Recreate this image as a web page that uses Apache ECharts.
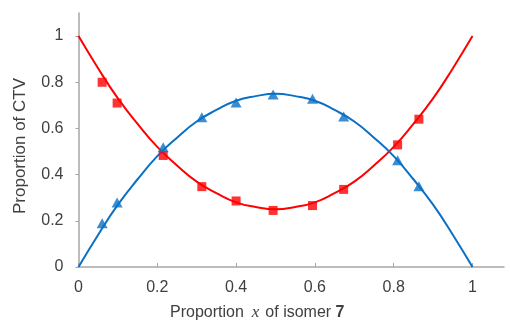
<!DOCTYPE html>
<html><head><meta charset="utf-8">
<script src="https://cdn.jsdelivr.net/npm/echarts@6/dist/echarts.min.js"></script>
<style>html,body{margin:0;padding:0;background:#fff}#c{width:510px;height:326px}</style>
</head><body><div id="c"></div>
<script>
// fitted curves
const curveX = [0,0.05,0.1,0.15,0.2,0.25,0.3,0.35,0.4,0.45,0.5,0.55,0.6,0.65,0.7,0.75,0.8,0.85,0.9,0.95,1];
const redCurve = [1,0.86,0.73,0.62,0.52,0.44,0.37,0.32,0.28,0.26,0.25,0.26,0.28,0.32,0.37,0.44,0.52,0.62,0.73,0.86,1];
const blueCurve = [0,0.14,0.27,0.38,0.48,0.56,0.63,0.68,0.72,0.74,0.75,0.74,0.72,0.68,0.63,0.56,0.48,0.38,0.27,0.14,0];
// measured points
const ptX = [0.06,0.098,0.215,0.313,0.40,0.494,0.594,0.673,0.81,0.864];
const redPts = [0.80,0.71,0.483,0.348,0.286,0.245,0.266,0.336,0.529,0.64];
const bluePts = [0.19,0.279,0.519,0.648,0.712,0.747,0.729,0.652,0.462,0.35];
const xTicks = [0,0.2,0.4,0.6,0.8,1];

const zip = (a,b)=>a.map((v,i)=>[v,b[i]]);
const RED='#ff0000', BLUE='#0a70c6', AX='#a6a6a6', TXT='#404040';
const FF='Liberation Sans';
const chart = echarts.init(document.getElementById('c'));
chart.setOption({
  animation:false,
  grid:{left:78.5,right:6,top:13,bottom:56.5},
  xAxis:{type:'value',min:0,max:1.08,interval:0.2,
    axisLine:{lineStyle:{color:AX,width:1.5}},
    axisTick:{inside:true,length:4,lineStyle:{color:AX}},
    splitLine:{show:false},
    axisLabel:{color:TXT,fontSize:16,fontFamily:FF,margin:13,showMaxLabel:false,
      formatter:v=>xTicks.some(t=>Math.abs(t-v)<1e-6)?String(+v.toFixed(1)):''},
    name:'{a|Proportion}{i|x}{a|of isomer }{b|7}',nameLocation:'middle',nameGap:37,
    nameTextStyle:{padding:[0,68,0,0],rich:{
      a:{fontSize:16,color:TXT,fontFamily:FF},
      i:{fontSize:17,color:TXT,fontStyle:'italic',fontFamily:'Liberation Serif',padding:[0,6,0,8]},
      b:{fontSize:16,color:TXT,fontWeight:'bold',fontFamily:FF}}}
  },
  yAxis:{type:'value',min:0,max:1.1,interval:0.2,
    axisLine:{show:true,lineStyle:{color:AX,width:1.5}},
    axisTick:{show:true,length:3,lineStyle:{color:AX}},
    splitLine:{show:false},
    axisLabel:{color:TXT,fontSize:16,fontFamily:FF,margin:15,showMaxLabel:false,
      formatter:v=>v>1.01?'':String(+v.toFixed(1))},
    name:'Proportion of CTV',nameLocation:'middle',nameGap:50,
    nameTextStyle:{fontSize:17,color:TXT,fontFamily:FF,padding:[0,12,0,0]}
  },
  series:[
    {type:'line',data:zip(curveX,redCurve),smooth:true,showSymbol:false,lineStyle:{color:RED,width:2},z:2},
    {type:'line',data:zip(curveX,blueCurve),smooth:true,showSymbol:false,lineStyle:{color:BLUE,width:2},z:2},
    {type:'scatter',data:zip(ptX,redPts),symbol:'rect',symbolSize:9,itemStyle:{color:RED},z:3},
    {type:'scatter',data:zip(ptX,bluePts),symbol:'triangle',symbolSize:[11,10],itemStyle:{color:BLUE},z:3}
  ]
});
</script></body></html>
